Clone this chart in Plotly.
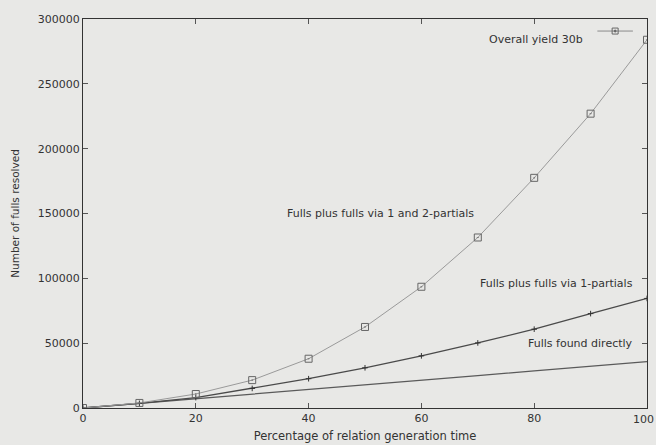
import plotly.graph_objects as go

# Percentage of relation generation time
pct = [0, 10, 20, 30, 40, 50, 60, 70, 80, 90, 100]

# Number of fulls resolved for each strategy
overall_yield = [0, 3900, 10800, 21500, 38000, 62500, 93500, 131500, 177500, 227000, 284000]
fulls_1partial = [0, 3600, 8000, 15100, 22600, 31000, 40200, 50200, 60800, 72800, 84500]
fulls_direct = [0, 3500, 7100, 10700, 14300, 17900, 21400, 25000, 28600, 32100, 35700]

x_ticks = [0, 20, 40, 60, 80, 100]
y_ticks = [0, 50000, 100000, 150000, 200000, 250000, 300000]

FONT = "DejaVu Sans, Verdana, sans-serif"
BG = "#e8e8e6"
TXT = "#333333"

fig = go.Figure()

fig.add_trace(go.Scatter(
    x=pct, y=fulls_direct, mode="lines",
    line=dict(color="#5a5a5a", width=1.3),
    showlegend=False,
))
fig.add_trace(go.Scatter(
    x=pct, y=fulls_1partial, mode="lines+markers",
    line=dict(color="#4a4a4a", width=1.3),
    marker=dict(symbol="cross-thin", size=4, line=dict(color="#333", width=1)),
    showlegend=False,
))
fig.add_trace(go.Scatter(
    x=pct, y=overall_yield, mode="lines+markers",
    line=dict(color="#9a9a9a", width=1),
    marker=dict(symbol="square-open-dot", size=7, color="#666",
                line=dict(color="#666", width=1)),
    showlegend=False,
))

# The last x tick label sits on the page edge; plotly would drop it, so it is
# written as an annotation anchored to the axis value, nudged to stay on the page.
last_tick = x_ticks[-1]
x_ticktext = [str(v) for v in x_ticks[:-1]] + [""]

annotations = [
    dict(text="Fulls plus fulls via 1 and 2-partials", x=0.527, y=0.499,
         xref="paper", yref="paper", showarrow=False, xanchor="center"),
    dict(text="Fulls plus fulls via 1-partials", x=0.979, y=0.298,
         xref="paper", yref="paper", showarrow=False, xanchor="right"),
    dict(text="Fulls found directly", x=0.979, y=0.144,
         xref="paper", yref="paper", showarrow=False, xanchor="right"),
    # key label
    dict(text="Overall yield 30b", x=0.89, y=0.969,
         xref="paper", yref="paper", showarrow=False, xanchor="right"),
    dict(text=str(last_tick), x=last_tick, y=0, xref="x", yref="paper",
         showarrow=False, xanchor="center", yanchor="top", yshift=-3, xshift=-4,
         font=dict(size=11)),
]

KX = 0.9435
KY = 0.969
shapes = [
    # key sample line
    dict(type="line", xref="paper", yref="paper", x0=0.912, x1=0.975,
         y0=KY, y1=KY, line=dict(color="#8a8a8a", width=1)),
    # key sample marker
    dict(type="rect", xref="paper", yref="paper", xsizemode="pixel", ysizemode="pixel",
         xanchor=KX, yanchor=KY, x0=-3, x1=3, y0=-3, y1=3,
         line=dict(color="#666", width=1)),
    dict(type="circle", xref="paper", yref="paper", xsizemode="pixel", ysizemode="pixel",
         xanchor=KX, yanchor=KY, x0=-1, x1=1, y0=-1, y1=1,
         line=dict(color="#666", width=1), fillcolor="#666"),
]

fig.update_layout(
    width=656, height=445,
    margin=dict(l=83, r=9, t=19, b=37),
    paper_bgcolor=BG, plot_bgcolor=BG,
    font=dict(family=FONT, size=11, color=TXT),
    annotations=annotations,
    shapes=shapes,
    xaxis=dict(
        range=[0, 100], tickvals=x_ticks, ticktext=x_ticktext,
        showgrid=False, zeroline=False, automargin=False,
        showline=True, linecolor="#333", linewidth=1.2, mirror="allticks",
        ticks="inside", ticklen=5, tickcolor="#555",
        tickfont=dict(size=11),
        title=dict(text="Percentage of relation generation time",
                   font=dict(size=11.5), standoff=7),
    ),
    yaxis=dict(
        range=[0, 300000], tickvals=y_ticks, ticktext=[str(v) for v in y_ticks],
        showgrid=False, zeroline=False, automargin=False,
        showline=True, linecolor="#333", linewidth=1.2, mirror="allticks",
        ticks="inside", ticklen=5, tickcolor="#555",
        tickfont=dict(size=11),
        title=dict(text="Number of fulls resolved", font=dict(size=10.5), standoff=16),
    ),
)

fig.write_html("out.html")
